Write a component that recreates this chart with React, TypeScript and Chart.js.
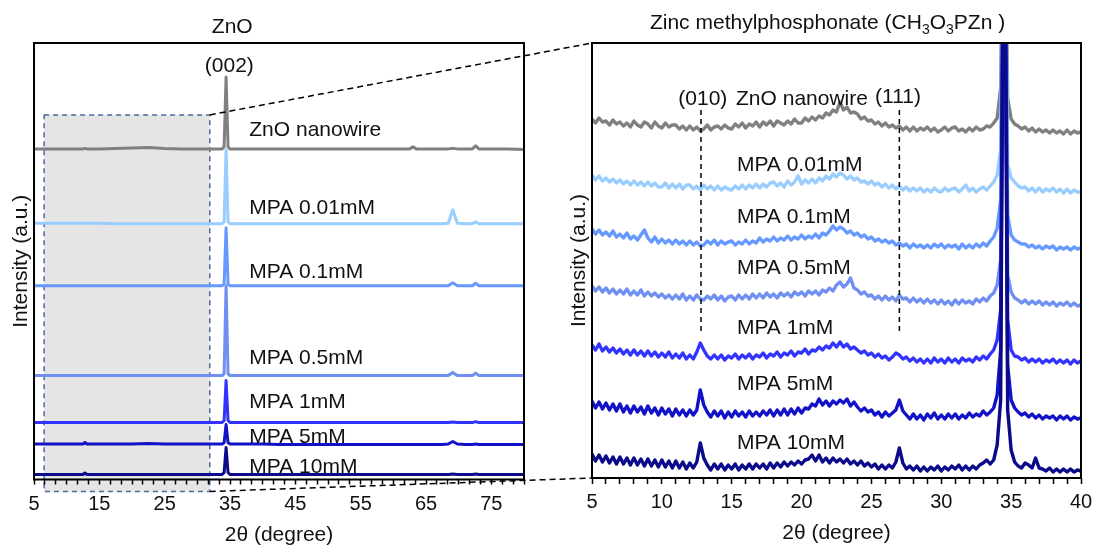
import React, { useEffect, useRef } from 'react';
import { Chart, registerables } from 'chart.js';

Chart.register(...registerables);

const FONT = '"Liberation Sans", Arial, Helvetica, sans-serif';

const seriesNames = ['ZnO nanowire', 'MPA 0.01mM', 'MPA 0.1mM', 'MPA 0.5mM', 'MPA 1mM', 'MPA 5mM', 'MPA 10mM'];
const seriesColors = ['#808080', '#99ccff', '#6699ff', '#6f8ff2', '#3333ff', '#1212c8', '#0a0a8a'];

// ---------- Left panel (ZnO, full 2θ range), stacked intensities in a.u. ----------
const leftTwoTheta = [5, 7.5, 10, 12.5, 12.8, 13.1, 15, 17.5, 20, 22.5, 25, 27.5, 30, 32.5, 33.8, 34.1, 34.4, 34.7, 35, 37.5, 40, 42.5, 45, 47.5, 50, 52.5, 55, 57.5, 60, 62.5, 63, 63.5, 65, 67.5, 68.4, 69.1, 69.8, 71, 72.1, 72.6, 73.1, 75, 77.5, 80];
const leftZnO = [331, 331, 331, 331, 331.5, 331, 331, 331.5, 332, 332.5, 331.5, 331, 331, 331, 331, 333, 403, 333, 331, 331, 331, 331, 331, 331, 331, 331, 331, 331, 331, 331, 333, 331, 331, 331, 331, 331.5, 331, 331, 331, 334, 331, 331, 331, 330.5];
const leftMPA001 = [256.5, 256.5, 256.5, 256.5, 256.5, 256.5, 256.5, 256, 256, 256, 256, 256, 256, 256, 256, 258, 330, 258, 256, 256, 256, 256, 256, 256, 256, 256, 256, 256, 256, 256, 256, 256, 256, 256, 256.5, 270, 256.5, 256, 256, 258, 256, 256, 256, 256];
const leftMPA01 = [194, 194, 194, 194, 194, 194, 194, 194, 194, 194, 194, 194, 194, 194, 194, 196, 252, 196, 194, 194, 194, 194, 194, 194, 194, 194, 194, 194, 194, 194, 194, 194, 194, 194, 194, 197, 194, 194, 194, 196.5, 194, 194, 194, 194];
const leftMPA05 = [104, 104, 104, 104, 104, 104, 104, 104, 104, 104, 104, 104, 104, 104, 104, 106, 194, 106, 104, 104, 104, 104, 104, 104, 104, 104, 104, 104, 104, 104, 104, 104, 104, 104, 104, 107, 104, 104, 104, 106.5, 104, 104, 104, 104];
const leftMPA1 = [57, 57, 57, 57, 57, 57, 57, 57, 57, 57, 57, 57, 57, 57, 57, 59, 99, 59, 57, 57, 57, 57, 57, 57, 57, 57, 57, 57, 57, 57, 57, 57, 57, 57, 57, 57.5, 57, 57, 57, 58, 57, 57, 57, 57];
const leftMPA5 = [35.5, 35.5, 35.5, 35.5, 37, 35.5, 35.5, 35.5, 35.5, 36, 35.5, 35.5, 35.5, 35.5, 35.5, 37, 55, 37, 35.5, 35.5, 35.5, 35, 35, 35, 35, 35, 35, 35, 35, 35, 35, 35, 35, 35, 35.5, 38, 35.5, 35, 35, 35.5, 35, 35, 35, 35];
const leftMPA10 = [5, 5, 5, 5, 6.5, 5, 5, 5, 5, 5, 5, 5, 5, 5, 5, 7, 32, 7, 5, 5, 5, 5, 5, 5, 5, 5, 5, 5, 5, 5, 5, 5, 5, 5, 5, 5.5, 5, 5, 5, 5.5, 5, 5, 5, 5];
const leftSeries = [leftZnO, leftMPA001, leftMPA01, leftMPA05, leftMPA1, leftMPA5, leftMPA10];
const leftTickLabels = [5, 15, 25, 35, 45, 55, 65, 75];

// ---------- Right panel (zinc methylphosphonate region, 5–40°) ----------
const rightTwoTheta = [
  5, 5.25, 5.5, 5.75, 6, 6.25, 6.5, 6.75, 7, 7.25, 7.5, 7.75, 8, 8.25, 8.5, 8.75, 9, 9.25, 9.5, 9.75,
  10, 10.25, 10.5, 10.75, 11, 11.25, 11.5, 11.75, 12, 12.25, 12.5, 12.75, 13, 13.25, 13.5, 13.75, 14, 14.25, 14.5, 14.75,
  15, 15.25, 15.5, 15.75, 16, 16.25, 16.5, 16.75, 17, 17.25, 17.5, 17.75, 18, 18.25, 18.5, 18.75, 19, 19.25, 19.5, 19.75,
  20, 20.25, 20.5, 20.75, 21, 21.25, 21.5, 21.75, 22, 22.25, 22.5, 22.75, 23, 23.25, 23.5, 23.75, 24, 24.25, 24.5, 24.75,
  25, 25.25, 25.5, 25.75, 26, 26.25, 26.5, 26.75, 27, 27.25, 27.5, 27.75, 28, 28.25, 28.5, 28.75, 29, 29.25, 29.5, 29.75,
  30, 30.25, 30.5, 30.75, 31, 31.25, 31.5, 31.75, 32, 32.25, 32.5, 32.75, 33, 33.25, 33.5, 33.75, 34, 34.25, 34.5, 34.75,
  35, 35.25, 35.5, 35.75, 36, 36.25, 36.5, 36.75, 37, 37.25, 37.5, 37.75, 38, 38.25, 38.5, 38.75, 39, 39.25, 39.5, 39.75,
  40,
];
const rightZnO = [
  359, 355, 360, 356, 357, 353, 358, 354, 356, 352, 355, 351, 357, 353, 351, 356, 354, 350, 356, 352,
  350, 355, 351, 353, 353, 349, 352, 348, 352, 348, 351, 347, 349, 353, 348, 351, 352, 349, 353, 350,
  349, 354, 351, 355, 350, 354, 352, 356, 351, 356, 353, 357, 352, 357, 355, 353, 357, 354, 359, 355,
  355, 360, 357, 361, 358, 362, 360, 365, 363, 368, 366, 376, 368, 371, 365, 366, 364, 359, 361, 357,
  358, 354, 356, 352, 355, 351, 353, 350, 352, 348, 351, 347, 351, 347, 350, 348, 351, 347, 350, 346,
  348, 351, 347, 350, 351, 347, 349, 346, 350, 347, 351, 348, 349, 352, 351, 355, 360, 390, 700, 380,
  359, 354, 352, 349, 351, 347, 350, 346, 349, 346, 348, 345, 348, 345, 347, 344, 348, 344, 347, 345,
  346,
];
const rightMPA001 = [
  303, 298, 302, 297, 300, 296, 299, 295, 298, 294, 297, 293, 297, 293, 296, 292, 296, 292, 295, 291,
  291, 295, 290, 294, 290, 294, 289, 293, 293, 289, 292, 288, 293, 289, 292, 288, 292, 288, 291, 289,
  288, 292, 289, 293, 289, 293, 290, 294, 290, 294, 291, 295, 296, 292, 295, 291, 297, 293, 296, 302,
  294, 298, 295, 299, 295, 300, 297, 302, 299, 304, 301, 305, 303, 299, 302, 298, 300, 296, 297, 294,
  297, 293, 295, 291, 294, 290, 293, 289, 292, 288, 291, 287, 290, 287, 290, 286, 289, 286, 290, 287,
  286, 290, 287, 289, 290, 286, 289, 293, 287, 290, 286, 289, 291, 288, 292, 296, 303, 328, 700, 313,
  300, 296, 292, 290, 291, 287, 290, 286, 290, 286, 289, 287, 290, 286, 289, 285, 289, 285, 288, 286,
  286,
];
const rightMPA01 = [
  249, 244, 248, 243, 246, 242, 247, 241, 244, 240, 245, 239, 242, 238, 243, 248, 240, 236, 241, 235,
  239, 235, 238, 234, 238, 234, 237, 233, 237, 233, 236, 232, 233, 237, 234, 238, 233, 237, 234, 236,
  237, 233, 236, 234, 238, 234, 237, 235, 240, 236, 239, 237, 241, 237, 240, 238, 242, 238, 241, 239,
  243, 239, 242, 240, 244, 240, 245, 243, 247, 252, 248, 251, 249, 245, 247, 243, 245, 241, 243, 239,
  241, 237, 239, 236, 238, 235, 237, 233, 235, 232, 234, 230, 234, 231, 233, 230, 233, 230, 234, 231,
  234, 230, 233, 231, 233, 229, 234, 230, 233, 230, 234, 231, 235, 232, 237, 241, 250, 278, 700, 263,
  243, 238, 236, 234, 234, 231, 233, 230, 232, 229, 232, 230, 232, 228, 231, 229, 231, 228, 231, 229,
  230,
];
const rightMPA05 = [
  192, 187, 191, 186, 190, 185, 189, 184, 188, 184, 189, 183, 187, 183, 188, 182, 186, 182, 185, 181,
  184, 180, 183, 179, 183, 179, 184, 178, 182, 178, 183, 179, 178, 182, 179, 183, 178, 182, 177, 181,
  182, 178, 183, 179, 183, 179, 184, 180, 184, 180, 185, 181, 184, 180, 185, 182, 185, 181, 186, 183,
  186, 182, 187, 184, 187, 183, 188, 186, 190, 187, 193, 196, 191, 194, 200, 190, 188, 184, 186, 182,
  183, 179, 182, 178, 182, 178, 181, 177, 183, 179, 180, 176, 180, 176, 179, 175, 179, 175, 178, 174,
  178, 174, 177, 173, 178, 174, 178, 175, 177, 174, 179, 176, 180, 177, 182, 185, 193, 218, 700, 203,
  186, 180, 178, 175, 178, 174, 177, 174, 177, 173, 176, 173, 176, 172, 175, 173, 176, 172, 175, 172,
  173,
];
const rightMPA1 = [
  133, 128, 134, 127, 131, 126, 130, 125, 129, 124, 128, 123, 128, 123, 127, 122, 127, 122, 126, 121,
  125, 121, 126, 120, 124, 120, 125, 119, 123, 119, 126, 135, 128, 122, 119, 123, 119, 123, 118, 122,
  120, 124, 119, 123, 120, 124, 119, 123, 121, 125, 120, 124, 122, 126, 121, 125, 123, 127, 122, 126,
  125, 129, 124, 128, 127, 131, 128, 132, 130, 135, 131, 136, 131, 134, 129, 131, 128, 125, 127, 123,
  125, 121, 124, 120, 122, 118, 121, 125, 123, 119, 121, 117, 120, 116, 119, 115, 119, 115, 120, 116,
  119, 115, 120, 116, 119, 115, 120, 117, 119, 116, 121, 118, 122, 119, 124, 128, 138, 168, 700, 158,
  128, 122, 121, 118, 120, 116, 119, 116, 119, 115, 118, 116, 119, 115, 118, 115, 118, 114, 118, 115,
  117,
];
const rightMPA5 = [
  77, 70, 76, 69, 75, 68, 74, 67, 74, 66, 72, 65, 72, 66, 71, 64, 72, 65, 70, 63,
  70, 64, 69, 62, 69, 63, 68, 62, 68, 63, 68, 88, 73, 66, 61, 67, 62, 67, 60, 66,
  61, 67, 62, 66, 61, 67, 62, 66, 62, 67, 63, 68, 62, 68, 63, 69, 63, 69, 64, 70,
  65, 70, 69, 74, 72, 79, 73, 77, 72, 77, 74, 78, 75, 79, 72, 76, 71, 67, 70, 66,
  68, 63, 66, 61, 66, 62, 65, 68, 78, 67, 63, 59, 64, 59, 63, 58, 64, 60, 65, 59,
  63, 59, 64, 60, 64, 59, 63, 60, 65, 61, 64, 62, 67, 63, 66, 70, 83, 128, 700, 113,
  78, 70, 66, 63, 65, 61, 64, 60, 63, 59, 62, 60, 62, 58, 62, 59, 62, 58, 61, 59,
  60,
];
const rightMPA10 = [
  24, 17, 23, 16, 22, 15, 21, 14, 21, 14, 20, 13, 20, 13, 19, 12, 19, 12, 18, 11,
  18, 11, 17, 10, 17, 10, 16, 9, 15, 10, 16, 35, 20, 13, 8, 14, 9, 14, 8, 13,
  9, 14, 8, 13, 9, 14, 9, 14, 10, 14, 9, 15, 10, 15, 11, 16, 12, 16, 13, 17,
  14, 18, 19, 23, 17, 23, 16, 20, 15, 20, 16, 19, 15, 19, 14, 17, 13, 17, 12, 15,
  11, 14, 9, 13, 9, 13, 10, 16, 30, 15, 9, 12, 8, 12, 7, 11, 7, 11, 8, 12,
  7, 11, 8, 12, 9, 13, 8, 12, 8, 12, 9, 13, 15, 18, 14, 18, 33, 78, 700, 68,
  28, 16, 12, 10, 15, 13, 10, 20, 10, 9, 7, 10, 6, 9, 6, 9, 6, 9, 6, 8,
  7,
];
const rightSeries = [rightZnO, rightMPA001, rightMPA01, rightMPA05, rightMPA1, rightMPA5, rightMPA10];
const rightTickLabels = [5, 10, 15, 20, 25, 30, 35, 40];

// reference peak markers in the right panel: (010) and (111)
const peakMarkers = [12.8, 27.0];
const peakMarkerSpan = [147, 368];

// zoomed region marked on the left panel
const zoomBoxTwoTheta = [6.55, 31.9];
const zoomBoxIntensity = [-12, 365];

type Label = { text: string; x: number; y: number; align: CanvasTextAlign };
type TitlePart = { t: string; sub?: boolean };
type Decor = {
  labels: Label[];
  title: TitlePart[];
  titleAt: [number, number];
  xTitle: string;
  yTitle: string;
  yTitleGap: number;
  box?: { x: number[]; y: number[] };
};

const leftDecor: Decor = {
  labels: [
    ...seriesNames.map((n, i) => ({ text: n, x: 37.95, y: [344, 266, 202, 116, 72, 37, 7][i], align: 'left' as CanvasTextAlign })),
    { text: '(002)', x: 34.9, y: 407.5, align: 'center' },
  ],
  title: [{ t: 'ZnO' }],
  titleAt: [35.35, 447.5],
  xTitle: '2θ (degree)',
  yTitle: 'Intensity (a.u.)',
  yTitleGap: 12.5,
  box: { x: zoomBoxTwoTheta, y: zoomBoxIntensity },
};

const rightDecor: Decor = {
  labels: [
    { text: '(010)', x: 12.93, y: 373.5, align: 'center' },
    { text: 'ZnO nanowire', x: 15.31, y: 373.5, align: 'left' },
    { text: '(111)', x: 26.9, y: 375.5, align: 'center' },
    ...seriesNames.slice(1).map((n, i) => ({ text: n, x: 15.37, y: [307.5, 255.5, 204.5, 144.5, 88.5, 29.5][i], align: 'left' as CanvasTextAlign })),
  ],
  title: [{ t: 'Zinc methylphosphonate (CH' }, { t: '3', sub: true }, { t: 'O' }, { t: '3', sub: true }, { t: 'PZn )' }],
  titleAt: [21.86, 448.7],
  xTitle: '2θ (degree)',
  yTitle: 'Intensity (a.u.)',
  yTitleGap: 13,
};

function makeDecorPlugin(d: Decor) {
  return {
    id: 'panelDecor',
    beforeDraw(chart: any) {
      if (!d.box) return;
      const { ctx } = chart;
      const x = chart.scales.x;
      const y = chart.scales.y;
      const x1 = x.getPixelForValue(d.box.x[0]);
      const x2 = x.getPixelForValue(d.box.x[1]);
      const y1 = y.getPixelForValue(d.box.y[1]);
      const y2 = y.getPixelForValue(d.box.y[0]);
      ctx.save();
      ctx.fillStyle = '#e5e5e5';
      ctx.fillRect(x1, y1, x2 - x1, y2 - y1);
      ctx.setLineDash([5, 4]);
      ctx.strokeStyle = '#4a6b9c';
      ctx.lineWidth = 1.5;
      ctx.strokeRect(x1, y1, x2 - x1, y2 - y1);
      ctx.restore();
    },
    afterDraw(chart: any) {
      const { ctx, chartArea: a } = chart;
      const x = chart.scales.x;
      const y = chart.scales.y;
      ctx.save();
      ctx.setLineDash([]);
      ctx.strokeStyle = '#000';
      ctx.lineWidth = 2;
      ctx.strokeRect(a.left, a.top, a.right - a.left, a.bottom - a.top);

      ctx.fillStyle = '#111';
      ctx.font = `21px ${FONT}`;
      ctx.textBaseline = 'alphabetic';
      for (const l of d.labels) {
        ctx.textAlign = l.align;
        ctx.fillText(l.text, x.getPixelForValue(l.x), y.getPixelForValue(l.y));
      }

      // title with optional subscripts
      const mainFont = `21px ${FONT}`;
      const subFont = `14px ${FONT}`;
      let total = 0;
      for (const p of d.title) {
        ctx.font = p.sub ? subFont : mainFont;
        total += ctx.measureText(p.t).width;
      }
      let tx = x.getPixelForValue(d.titleAt[0]) - total / 2;
      const ty = y.getPixelForValue(d.titleAt[1]);
      ctx.textAlign = 'left';
      for (const p of d.title) {
        ctx.font = p.sub ? subFont : mainFont;
        ctx.fillText(p.t, tx, p.sub ? ty + 5 : ty);
        tx += ctx.measureText(p.t).width;
      }

      ctx.font = mainFont;
      ctx.textAlign = 'center';
      ctx.fillText(d.xTitle, (a.left + a.right) / 2, a.bottom + 61);

      ctx.translate(a.left - d.yTitleGap, (a.top + a.bottom) / 2);
      ctx.rotate(-Math.PI / 2);
      ctx.textBaseline = 'middle';
      ctx.fillText(d.yTitle, 0, 0);
      ctx.restore();
    },
  };
}

function makeConfig(opts: {
  xs: number[];
  series: number[][];
  xRange: number[];
  yMax: number;
  stepSize: number;
  tickLabels: number[];
  padding: { left: number; right: number; top: number; bottom: number };
  axisHeight: number;
  tickLength: number;
  tickPadding: number;
  lineWidth: number;
  decor: Decor;
  markers?: boolean;
}): any {
  const datasets: any[] = opts.series.map((s, i) => ({
    label: seriesNames[i],
    data: opts.xs.map((x, j) => ({ x, y: s[j] })),
    borderColor: seriesColors[i],
    borderWidth: opts.lineWidth,
    pointRadius: 0,
    fill: false,
    tension: 0,
    borderJoinStyle: 'round',
    order: opts.series.length - 1 - i,
  }));
  if (opts.markers) {
    peakMarkers.forEach((m) => {
      datasets.push({
        label: 'marker',
        data: [{ x: m, y: peakMarkerSpan[0] }, { x: m, y: peakMarkerSpan[1] }],
        borderColor: '#000',
        borderWidth: 1.5,
        borderDash: [5, 4],
        pointRadius: 0,
        fill: false,
        order: -1,
      });
    });
  }
  return {
    type: 'line',
    data: { datasets },
    options: {
      responsive: false,
      animation: false,
      devicePixelRatio: 1,
      events: [],
      layout: { padding: opts.padding },
      plugins: { legend: { display: false }, tooltip: { enabled: false }, title: { display: false } },
      scales: {
        x: {
          type: 'linear',
          min: opts.xRange[0],
          max: opts.xRange[1],
          afterFit: (s: any) => {
            s.paddingLeft = 0;
            s.paddingRight = 0;
            s.height = opts.axisHeight;
          },
          border: { display: false },
          grid: {
            display: true,
            drawOnChartArea: false,
            drawTicks: true,
            tickLength: opts.tickLength,
            tickWidth: 1.5,
            tickColor: '#000',
            color: '#000',
          },
          ticks: {
            stepSize: opts.stepSize,
            autoSkip: false,
            maxRotation: 0,
            minRotation: 0,
            padding: opts.tickPadding,
            color: '#111',
            font: { size: 20, family: FONT },
            callback: (v: number) => {
              const hit = opts.tickLabels.find((t) => Math.abs(t - v) < 1e-6);
              return hit !== undefined ? String(hit) : '';
            },
          },
        },
        y: { type: 'linear', display: false, min: 0, max: opts.yMax },
      },
    },
    plugins: [makeDecorPlugin(opts.decor)],
  };
}

const LEFT_CANVAS = { left: 0, width: 560, height: 546 };
const RIGHT_CANVAS = { left: 560, width: 536, height: 546 };

export default function App() {
  const leftRef = useRef<HTMLCanvasElement>(null);
  const rightRef = useRef<HTMLCanvasElement>(null);
  const overlayRef = useRef<HTMLCanvasElement>(null);

  useEffect(() => {
    const left = new Chart(
      leftRef.current as HTMLCanvasElement,
      makeConfig({
        xs: leftTwoTheta,
        series: leftSeries,
        xRange: [5, 80],
        yMax: 437,
        stepSize: 10 / 6,
        tickLabels: leftTickLabels,
        padding: { left: 34, right: 36, top: 43, bottom: 29.5 },
        axisHeight: 37,
        tickLength: 5,
        tickPadding: 8,
        lineWidth: 3,
        decor: leftDecor,
      })
    );
    const right = new Chart(
      rightRef.current as HTMLCanvasElement,
      makeConfig({
        xs: rightTwoTheta,
        series: rightSeries,
        xRange: [5, 40],
        yMax: 435,
        stepSize: 1,
        tickLabels: rightTickLabels,
        padding: { left: 32, right: 15, top: 43, bottom: 32 },
        axisHeight: 36,
        tickLength: 6,
        tickPadding: 6,
        lineWidth: 3.4,
        decor: rightDecor,
        markers: true,
      })
    );

    const ov = overlayRef.current as HTMLCanvasElement;
    const ctx = ov.getContext('2d') as CanvasRenderingContext2D;
    ctx.clearRect(0, 0, ov.width, ov.height);
    const lx = (left as any).scales.x;
    const ly = (left as any).scales.y;
    const rArea = (right as any).chartArea;
    const bx = LEFT_CANVAS.left + lx.getPixelForValue(zoomBoxTwoTheta[1]);
    const byTop = ly.getPixelForValue(zoomBoxIntensity[1]);
    const byBottom = ly.getPixelForValue(zoomBoxIntensity[0]);
    ctx.save();
    ctx.strokeStyle = '#000';
    ctx.lineWidth = 1.5;
    ctx.setLineDash([6, 4]);
    ctx.beginPath();
    ctx.moveTo(bx, byTop);
    ctx.lineTo(RIGHT_CANVAS.left + rArea.left, rArea.top);
    ctx.moveTo(bx, byBottom);
    ctx.lineTo(RIGHT_CANVAS.left + rArea.left, rArea.bottom);
    ctx.stroke();
    ctx.restore();

    return () => {
      left.destroy();
      right.destroy();
      ctx.clearRect(0, 0, ov.width, ov.height);
    };
  }, []);

  return (
    <div style={{ position: 'absolute', left: 0, top: 0, width: 1096, height: 546, background: '#fff', overflow: 'hidden' }}>
      <canvas
        ref={leftRef}
        width={LEFT_CANVAS.width}
        height={LEFT_CANVAS.height}
        style={{ position: 'absolute', left: LEFT_CANVAS.left, top: 0, width: LEFT_CANVAS.width, height: LEFT_CANVAS.height }}
      />
      <canvas
        ref={rightRef}
        width={RIGHT_CANVAS.width}
        height={RIGHT_CANVAS.height}
        style={{ position: 'absolute', left: RIGHT_CANVAS.left, top: 0, width: RIGHT_CANVAS.width, height: RIGHT_CANVAS.height }}
      />
      <canvas
        ref={overlayRef}
        width={1096}
        height={546}
        style={{ position: 'absolute', left: 0, top: 0, width: 1096, height: 546, pointerEvents: 'none' }}
      />
    </div>
  );
}
